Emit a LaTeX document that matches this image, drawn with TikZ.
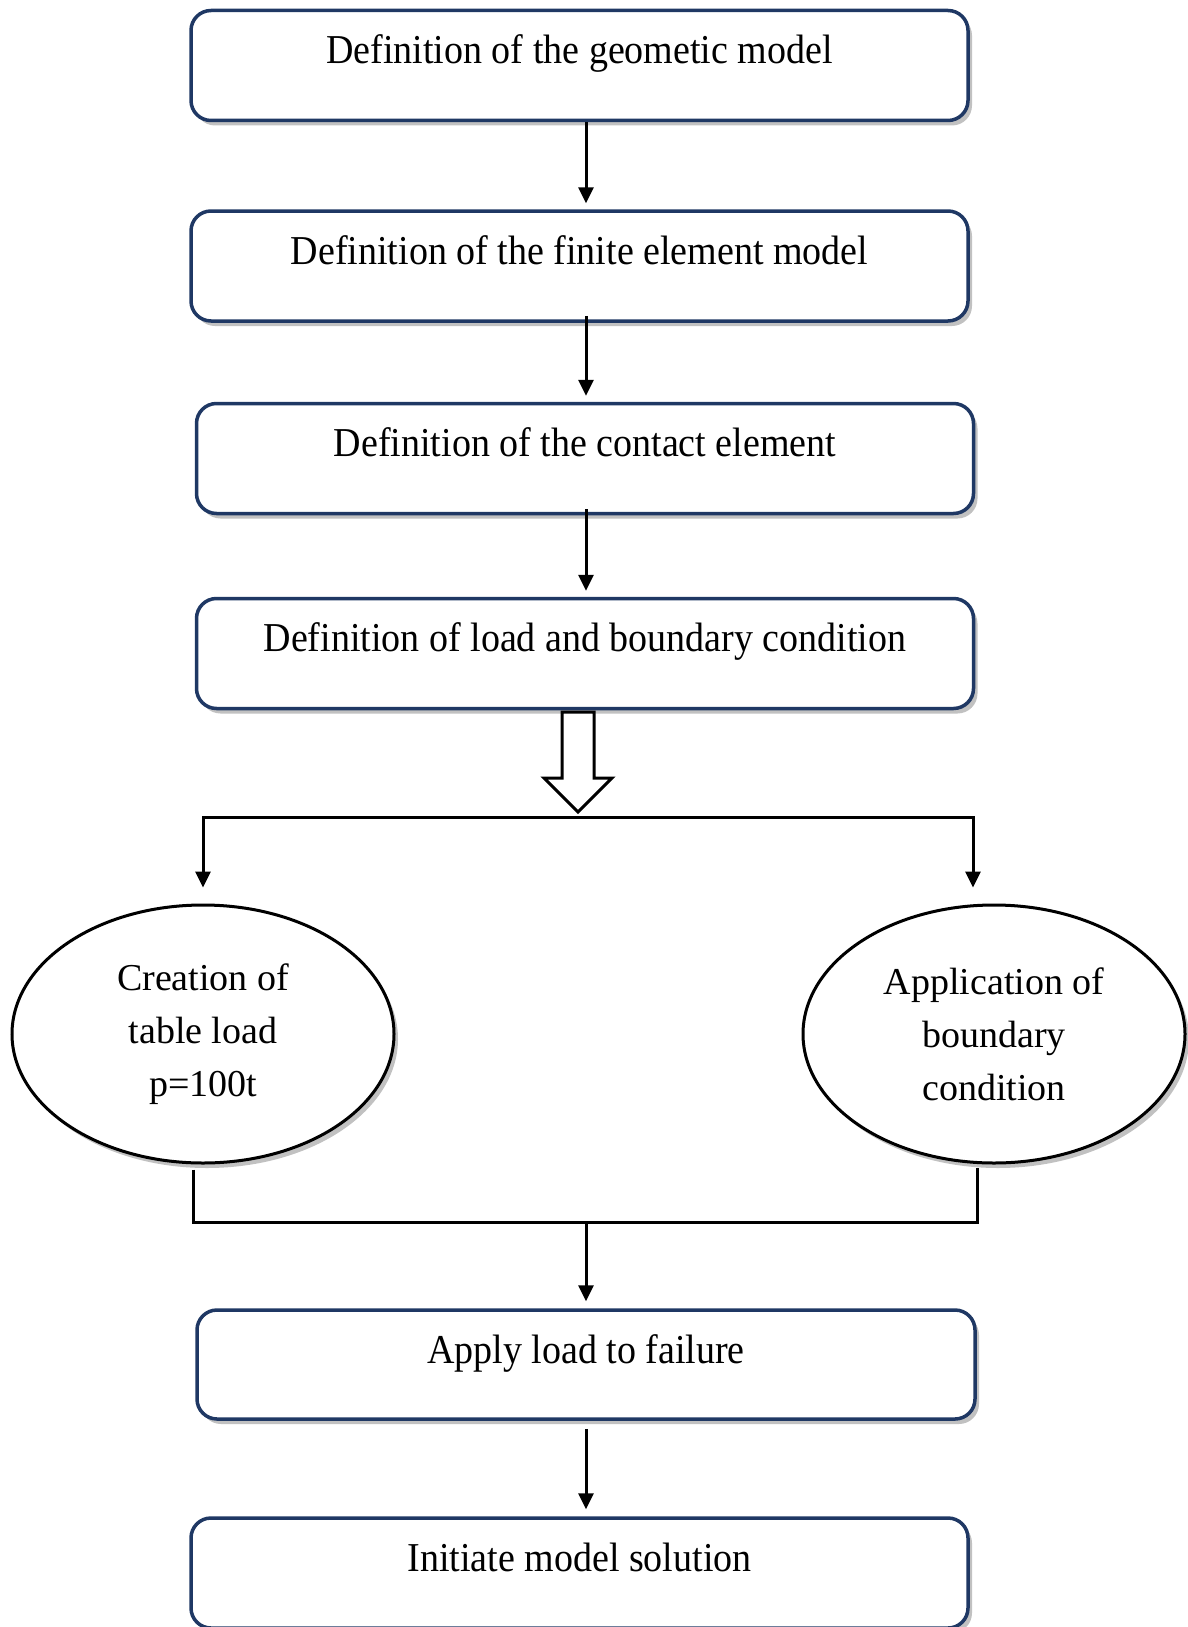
\documentclass[tikz,border=0pt]{standalone}
\usepackage{fontspec}
\setmainfont{Liberation Serif}
\usetikzlibrary{arrows.meta,shapes.geometric,shadows,calc}
\definecolor{navy}{RGB}{31,56,100}
\newcommand{\tall}[1]{\scalebox{1}[1.08]{#1}}
\tikzset{
  procbox/.style={draw=navy,line width=3.5pt,rounded corners=20pt,fill=white,
    minimum width=777pt,inner xsep=0pt,inner ysep=0pt,text height=53pt,text depth=57pt,
    font=\fontsize{38}{54}\selectfont,
    drop shadow={shadow xshift=4pt,shadow yshift=-5pt,opacity=0.35,fill=black!70}},
  oval/.style={draw=black,line width=3pt,ellipse,fill=white,minimum width=382pt,minimum height=258pt,
    inner sep=0pt,align=center,font=\fontsize{38}{53}\selectfont,
    drop shadow={shadow xshift=4pt,shadow yshift=-5pt,opacity=0.35,fill=black!70}},
  conn/.style={line width=3pt,black},
  arr/.style={conn,-{Triangle[length=16pt,width=15pt]}}
}
\begin{document}
\begin{tikzpicture}[x=1pt,y=-1pt]
\useasboundingbox (0,0) rectangle (1188,1627);
\node[procbox] (b1) at (579.5,65.5) {\tall{Definition of the geometic model}};
\node[procbox] (b2) at (579.5,266) {\tall{Definition of the finite element model}};
\node[procbox] (b3) at (585,458.5) {\tall{Definition of the contact element}};
\node[procbox] (b4) at (585,653.5) {\tall{Definition of load and boundary condition}};
\node[oval] (eL) at (203,1034) {Creation of\\table load\\p=100t};
\node[oval] (eR) at (994,1034) {Application of\\boundary\\condition};
\node[procbox,minimum width=778pt,text depth=56pt] (b5) at (586,1364.5) {\tall{Apply load to failure}};
\node[procbox] (b6) at (579.5,1573) {\tall{Initiate model solution}};
\coordinate (ax) at (586,0);
\draw[arr] (b1.south -| ax) -- ($(b2.north -| ax)+(0,-6)$);
\draw[arr] ($(b2.south -| ax)+(0,-7)$) -- ($(b3.north -| ax)+(0,-6)$);
\draw[arr] ($(b3.south -| ax)+(0,-6)$) -- ($(b4.north -| ax)+(0,-6)$);
% hollow block arrow
\coordinate (ha) at (578,712);
\draw[line width=3pt,fill=white,line join=miter]
  ($(ha)+(-16,0)$) -- ($(ha)+(16,0)$) -- ($(ha)+(16,66)$) -- ($(ha)+(34,66)$)
  -- ($(ha)+(0,100)$) -- ($(ha)+(-34,66)$) -- ($(ha)+(-16,66)$) -- cycle;
\coordinate (sL) at (203,817);
\coordinate (sR) at (973,817);
\draw[conn,line cap=rect] (sL) -- (sR);
\draw[arr] (sL) -- ($(eL.north)+(0,-16)$);
\draw[arr] (sR) -- ($(eR.north -| sR)+(0,-16)$);
\coordinate (jL) at (193,1222);
\coordinate (jR) at (977,1222);
\coordinate (jM) at (586,1222);
\draw[conn,line join=miter] ($(eL.south -| jL)+(0,5)$) -- (jL) -- (jR) -- ($(eR.south -| jR)+(0,3)$);
\draw[arr] (jM) -- ($(b5.north -| jM)+(0,-7)$);
\draw[arr] ($(b5.south -| ax)+(0,8)$) -- ($(b6.north -| ax)+(0,-7)$);
\end{tikzpicture}
\end{document}
